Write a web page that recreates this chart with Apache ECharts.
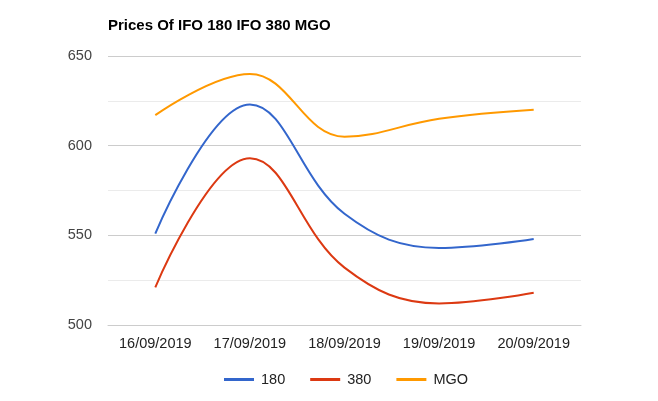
<!DOCTYPE html>
<html><head><meta charset="utf-8">
<script src="https://cdn.jsdelivr.net/npm/echarts@6/dist/echarts.min.js"></script>
<style>html,body{margin:0;padding:0;background:#fff}#c{width:658px;height:401px}</style>
</head><body><div id="c"></div>
<script>
const categories = ['16/09/2019','17/09/2019','18/09/2019','19/09/2019','20/09/2019'];
const ifo180 = [551, 623, 562, 543, 548];
const ifo380 = [521, 593, 532, 512, 518];
const mgo = [617, 640, 605, 615, 620];
const seriesNames = ['180','380','MGO'];
const colors = ['#3366cc','#dc3912','#ff9900'];
const FONT = '"Liberation Sans", Arial, sans-serif';
const chart = echarts.init(document.getElementById('c'), null, {renderer:'canvas'});
chart.setOption({
  animation:false,
  color: colors,
  title:{text:'Prices Of IFO 180 IFO 380 MGO', left:108, top:18, padding:0,
    textStyle:{fontFamily:FONT, fontSize:15, fontWeight:'bold', color:'#000'}},
  legend:{left:224, top:372, padding:0, itemWidth:30, itemHeight:3, itemGap:25,
    icon:'rect',
    textStyle:{fontFamily:FONT, fontSize:14.5, color:'#222', padding:[0,0,0,2]},
    data: seriesNames},
  grid:{left:108, right:77, top:56, bottom:76},
  xAxis:{type:'category', data:categories, boundaryGap:true,
    axisLine:{show:true, lineStyle:{color:'#ccc'}}, axisTick:{show:false},
    axisLabel:{fontFamily:FONT, fontSize:14.5, color:'#222', margin:11}},
  yAxis:{type:'value', min:500, max:650, interval:50,
    axisLine:{show:false}, axisTick:{show:false},
    axisLabel:{fontFamily:FONT, fontSize:14.5, color:'#444', margin:16},
    splitLine:{lineStyle:{color:'#ccc', width:1}},
    minorTick:{show:false, splitNumber:2},
    minorSplitLine:{show:true, lineStyle:{color:'#ebebeb', width:1}}},
  series:[
    {name:seriesNames[0], type:'line', data:ifo180, smooth:0.4, showSymbol:false, lineStyle:{width:2}},
    {name:seriesNames[1], type:'line', data:ifo380, smooth:0.4, showSymbol:false, lineStyle:{width:2}},
    {name:seriesNames[2], type:'line', data:mgo, smooth:0.4, showSymbol:false, lineStyle:{width:2}}
  ]
});
</script></body></html>
